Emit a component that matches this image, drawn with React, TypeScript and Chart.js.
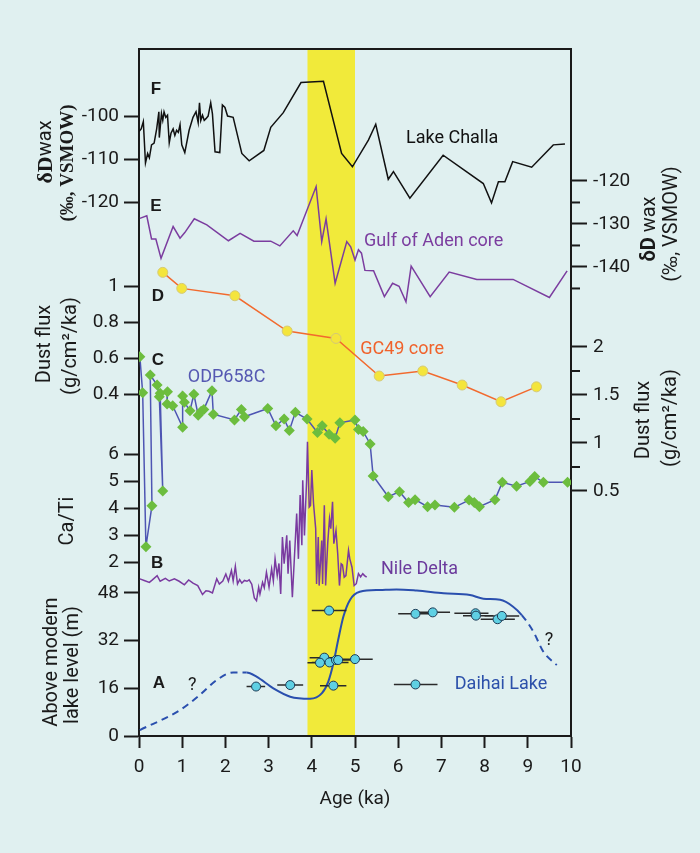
import React, { useEffect, useRef } from 'react';
import { Chart, registerables } from 'chart.js';

Chart.register(...registerables);

// ---------- page / style ----------
const W = 700;
const H = 853;
const BG = '#e0f0f0';
const INK = '#1a1a1a';
const FONT = 'Roboto';

// ---------- x axis ----------
const AGE_TICKS = [0, 1, 2, 3, 4, 5, 6, 7, 8, 9, 10];
const BAND = [3.9, 5.0];

// ---------- F: Lake Challa dDwax (left axis) ----------
const challaAge = [0.0, 0.05, 0.1, 0.15, 0.2, 0.24, 0.29, 0.35, 0.41, 0.46, 0.47, 0.52, 0.55, 0.58, 0.62, 0.66, 0.7, 0.74, 0.79, 0.83, 0.87, 0.91, 0.95, 0.99, 1.06, 1.16, 1.25, 1.32, 1.37, 1.4, 1.43, 1.47, 1.51, 1.55, 1.6, 1.66, 1.7, 1.76, 1.87, 1.93, 1.99, 2.05, 2.18, 2.38, 2.55, 2.89, 3.05, 3.34, 3.75, 4.27, 4.69, 4.94, 5.31, 5.48, 5.77, 5.89, 6.27, 7.04, 7.97, 8.16, 8.32, 8.47, 8.65, 9.09, 9.59, 9.86];
const challaDD = [-103.6, -103.0, -101.3, -110.9, -108.7, -109.7, -106.7, -106.3, -102.9, -99.0, -105.0, -99.4, -101.0, -99.0, -100.3, -99.8, -106.2, -104.0, -103.0, -104.5, -103.3, -103.8, -102.0, -106.7, -108.5, -103.3, -100.3, -99.0, -101.5, -96.9, -101.0, -99.8, -101.0, -100.6, -100.0, -96.9, -99.5, -108.3, -108.5, -97.4, -98.0, -100.0, -100.3, -108.7, -110.4, -108.0, -102.6, -99.2, -92.2, -91.9, -108.7, -111.8, -105.6, -101.9, -114.7, -112.9, -119.1, -109.1, -115.7, -120.2, -115.3, -115.3, -110.6, -111.9, -106.7, -106.5];

// ---------- E: Gulf of Aden core dDwax (right axis) ----------
const adenAge = [0.02, 0.18, 0.29, 0.39, 0.51, 0.79, 0.95, 1.06, 1.28, 1.57, 2.07, 2.34, 2.66, 3.05, 3.26, 3.57, 3.66, 4.1, 4.23, 4.33, 4.54, 4.81, 4.9, 5.0, 5.08, 5.15, 5.23, 5.43, 5.68, 5.87, 6.02, 6.18, 6.3, 6.74, 7.18, 7.82, 8.66, 9.5, 9.91];
const adenDD = [-128.7, -128.1, -133.5, -133.5, -138.0, -130.6, -133.3, -132.0, -128.8, -130.2, -133.9, -132.2, -134.0, -134.0, -135.1, -131.6, -132.7, -121.3, -134.1, -128.8, -143.8, -134.1, -135.3, -138.4, -136.0, -136.8, -140.8, -140.9, -146.9, -143.8, -144.5, -148.1, -139.8, -146.9, -141.2, -142.9, -142.9, -147.1, -140.9];

// ---------- D: GC49 core dust flux (left axis) ----------
const gc49Age = [0.55, 0.99, 2.22, 3.43, 4.56, 5.56, 6.57, 7.48, 8.38, 9.2];
const gc49Flux = [1.076, 0.987, 0.946, 0.75, 0.709, 0.5, 0.528, 0.45, 0.357, 0.44];

// ---------- C: ODP658C dust flux (right axis) ----------
const odpAge = [0.02, 0.085, 0.16, 0.3, 0.26, 0.42, 0.47, 0.55, 0.49, 0.66, 0.65, 0.78, 1.01, 1.01, 1.05, 1.18, 1.27, 1.37, 1.44, 1.5, 1.69, 1.72, 2.21, 2.37, 2.44, 2.98, 3.17, 3.36, 3.48, 3.62, 3.89, 4.13, 4.24, 4.4, 4.54, 4.65, 5.0, 5.08, 5.19, 5.35, 5.42, 5.77, 6.03, 6.24, 6.39, 6.68, 6.85, 7.3, 7.64, 7.76, 7.88, 8.24, 8.41, 8.74, 9.05, 9.16, 9.36, 9.92];
const odpFlux = [1.899, 1.524, -0.08, 0.347, 1.708, 1.604, 1.482, 0.5, 1.518, 1.535, 1.406, 1.388, 1.163, 1.49, 1.424, 1.336, 1.507, 1.29, 1.33, 1.35, 1.545, 1.3, 1.24, 1.35, 1.274, 1.36, 1.18, 1.25, 1.13, 1.32, 1.25, 1.11, 1.18, 1.09, 1.05, 1.21, 1.24, 1.14, 1.12, 0.99, 0.656, 0.44, 0.493, 0.38, 0.41, 0.336, 0.354, 0.33, 0.406, 0.38, 0.336, 0.41, 0.59, 0.55, 0.6, 0.65, 0.59, 0.59];

// ---------- B: Nile Delta Ca/Ti ----------
const nileAge = [0.02, 0.12, 0.24, 0.31, 0.42, 0.49, 0.61, 0.7, 0.82, 0.93, 1.05, 1.15, 1.25, 1.36, 1.47, 1.55, 1.62, 1.7, 1.8, 1.86, 1.94, 2.01, 2.07, 2.14, 2.18, 2.23, 2.28, 2.33, 2.38, 2.44, 2.5, 2.55, 2.61, 2.67, 2.72, 2.77, 2.8, 2.86, 2.9, 2.95, 3.01, 3.07, 3.11, 3.15, 3.2, 3.24, 3.28, 3.32, 3.36, 3.42, 3.45, 3.49, 3.55, 3.59, 3.65, 3.69, 3.73, 3.77, 3.79, 3.83, 3.88, 3.9, 3.94, 3.97, 4.0, 4.04, 4.09, 4.11, 4.15, 4.17, 4.23, 4.25, 4.29, 4.32, 4.37, 4.41, 4.44, 4.48, 4.51, 4.56, 4.6, 4.64, 4.68, 4.71, 4.75, 4.79, 4.85, 4.88, 4.93, 4.98, 5.03, 5.08, 5.13, 5.18, 5.22, 5.27];
const nileCaTi = [1.38, 1.32, 1.25, 1.34, 1.5, 1.29, 1.4, 1.3, 1.38, 1.29, 1.16, 1.34, 1.22, 1.13, 0.8, 0.94, 0.92, 0.86, 1.38, 1.19, 1.3, 1.56, 1.29, 1.69, 1.3, 1.84, 1.19, 1.35, 1.22, 1.32, 1.29, 1.34, 1.18, 0.67, 0.57, 1.07, 0.82, 1.25, 1.05, 1.62, 1.07, 1.75, 1.3, 2.12, 1.5, 1.95, 0.82, 2.93, 1.94, 2.99, 1.57, 2.8, 0.7, 1.94, 3.8, 2.12, 4.48, 2.62, 5.03, 2.99, 5.03, 6.46, 4.04, 4.1, 5.41, 4.17, 3.24, 1.19, 2.93, 1.13, 2.8, 1.19, 4.1, 1.13, 2.74, 3.61, 3.24, 4.23, 2.68, 3.17, 2.31, 1.13, 1.94, 1.9, 1.44, 1.5, 2.43, 2.12, 1.81, 1.13, 1.2, 1.57, 1.45, 1.57, 1.5, 1.44];

// ---------- A: Daihai Lake level ----------
const daihaiCurveAge = [0.02, 0.95, 1.41, 1.8, 2.18, 2.49, 2.72, 3.11, 3.5, 3.96, 4.23, 4.38, 4.5, 4.61, 4.73, 4.88, 5.11, 5.58, 5.96, 6.43, 7.05, 7.66, 7.97, 8.36, 8.66, 8.86, 9.13, 9.36, 9.67];
const daihaiCurveLevel = [2.0, 8.7, 13.8, 18.8, 21.3, 21.3, 19.9, 16.0, 13.2, 12.5, 14.3, 18.2, 24.4, 32.2, 40.0, 45.6, 48.4, 49.0, 49.2, 48.8, 47.9, 47.3, 46.1, 45.7, 43.4, 40.6, 35.0, 28.3, 23.8];
const daihaiAge = [2.71, 3.5, 4.4, 4.29, 4.19, 4.41, 4.56, 4.61, 5.0, 4.5, 6.4, 6.8, 7.79, 7.8, 8.3, 8.4, 6.4];
const daihaiLevel = [16.6, 17.1, 42.1, 26.3, 24.6, 24.7, 25.5, 25.5, 25.8, 16.9, 41.0, 41.5, 41.2, 40.4, 39.2, 40.3, 17.3];
const daihaiAgeLo = [2.49, 3.2, 4.0, 3.95, 3.9, 4.0, 4.2, 4.25, 4.64, 4.19, 6.0, 6.4, 7.3, 7.5, 7.91, 8.0, 5.9];
const daihaiAgeHi = [2.92, 3.8, 4.8, 4.6, 4.5, 4.85, 4.95, 4.96, 5.41, 4.8, 6.8, 7.2, 8.09, 8.2, 8.7, 8.8, 6.91];
const DASH_BEFORE = 2.5;
const DASH_AFTER = 8.86;

// ---------- tick labels ----------
const LEFT_TICKS_DD = [-100, -110, -120];
const LEFT_TICKS_DUST = [1, 0.8, 0.6, 0.4];
const LEFT_TICKS_CATI = [6, 5, 4, 3, 2];
const LEFT_TICKS_LAKE = [48, 32, 16, 0];
const RIGHT_TICKS_DD = [-120, -130, -140];
const RIGHT_MINOR_DD = [-125, -135, -145];
const RIGHT_TICKS_DUST = [2, 1.5, 1, 0.5];
const RIGHT_MINOR_DUST = [1.75, 1.25, 0.75];

// ---------- ranges of the stacked (hidden) value scales ----------
const RANGES: Record<string, { min: number; max: number }> = {
  yF: { min: -244.2, max: -84.4 },
  yE: { min: -249.1, max: -89.3 },
  yD: { min: -1.5, max: 2.317 },
  yC: { min: -2.052, max: 5.104 },
  yB: { min: -4.44, max: 21.0 },
  yA: { min: 0, max: 230.6 },
};
const frac = (id: string, v: number) => (v - RANGES[id].min) / (RANGES[id].max - RANGES[id].min);

const LEFT_AXIS = [
  ...LEFT_TICKS_DD.map((v) => ({ id: 'yF', v })),
  ...LEFT_TICKS_DUST.map((v) => ({ id: 'yD', v })),
  ...LEFT_TICKS_CATI.map((v) => ({ id: 'yB', v })),
  ...LEFT_TICKS_LAKE.map((v) => ({ id: 'yA', v })),
];
const RIGHT_AXIS = [
  ...RIGHT_TICKS_DD.map((v) => ({ id: 'yE', v })),
  ...RIGHT_TICKS_DUST.map((v) => ({ id: 'yC', v })),
];
const RIGHT_MINOR = [
  ...RIGHT_MINOR_DD.map((v) => ({ id: 'yE', v })),
  ...RIGHT_MINOR_DUST.map((v) => ({ id: 'yC', v })),
];

// ---------- annotations ----------
const PANEL_LETTERS = [
  { text: 'F', x: 0.39, axis: 'yF', y: -93.5 },
  { text: 'E', x: 0.39, axis: 'yE', y: -125.6 },
  { text: 'D', x: 0.44, axis: 'yD', y: 0.95 },
  { text: 'C', x: 0.44, axis: 'yC', y: 1.875 },
  { text: 'B', x: 0.42, axis: 'yB', y: 2.0 },
  { text: 'A', x: 0.46, axis: 'yA', y: 18.1 },
];
const SERIES_LABELS = [
  { text: 'Lake Challa', x: 7.25, axis: 'yF', y: -104.7, color: '#111111', align: 'center' },
  { text: 'Gulf of Aden core', x: 5.21, axis: 'yE', y: -133.7, color: '#7b3d9f', align: 'left' },
  { text: 'GC49 core', x: 5.12, axis: 'yD', y: 0.661, color: '#f0622b', align: 'left' },
  { text: 'ODP658C', x: 1.13, axis: 'yC', y: 1.698, color: '#5558b2', align: 'left' },
  { text: 'Nile Delta', x: 5.6, axis: 'yB', y: 1.8, color: '#6b3a9c', align: 'left' },
  { text: 'Daihai Lake', x: 7.31, axis: 'yA', y: 17.8, color: '#2c50aa', align: 'left' },
  { text: '?', x: 1.23, axis: 'yA', y: 17.5, color: INK, align: 'center' },
  { text: '?', x: 9.49, axis: 'yA', y: 32.6, color: INK, align: 'center' },
];

type Piece = { t: string; font: string };
const TITLES: { x: number; y: number; pieces: Piece[] }[] = [
  { x: 46, y: 152, pieces: [{ t: 'δD', font: 'bold 22px "Liberation Serif"' }, { t: 'wax', font: `20px ${FONT}` }] },
  { x: 68, y: 163, pieces: [{ t: '(‰, VSMOW)', font: 'bold 19px "Liberation Serif"' }] },
  { x: 45, y: 344, pieces: [{ t: 'Dust flux', font: `20px ${FONT}` }] },
  { x: 71, y: 346, pieces: [{ t: '(g/cm²/ka)', font: `20px ${FONT}` }] },
  { x: 68, y: 521, pieces: [{ t: 'Ca/Ti', font: `20px ${FONT}` }] },
  { x: 52, y: 662, pieces: [{ t: 'Above modern', font: `20px ${FONT}` }] },
  { x: 73, y: 665, pieces: [{ t: 'lake level (m)', font: `20px ${FONT}` }] },
  { x: 650, y: 229, pieces: [{ t: 'δD', font: `bold 20px ${FONT}` }, { t: ' wax', font: `20px ${FONT}` }] },
  { x: 672, y: 224, pieces: [{ t: '(‰, VSMOW)', font: `20px ${FONT}` }] },
  { x: 644, y: 420, pieces: [{ t: 'Dust flux', font: `20px ${FONT}` }] },
  { x: 671, y: 418, pieces: [{ t: '(g/cm²/ka)', font: `20px ${FONT}` }] },
];
const X_TITLE = { text: 'Age (ka)', x: 355, y: 797 };

const pts = (xs: number[], ys: number[]) => xs.map((x, i) => ({ x, y: ys[i] }));

const overlayPlugin = {
  id: 'overlay',
  beforeDraw(chart: any) {
    const { ctx, chartArea, scales } = chart;
    const x0 = scales.x.getPixelForValue(BAND[0]);
    const x1 = scales.x.getPixelForValue(BAND[1]);
    ctx.save();
    ctx.fillStyle = '#f1ea3a';
    ctx.fillRect(x0, chartArea.top, x1 - x0, chartArea.bottom - chartArea.top);
    ctx.restore();
  },
  afterDraw(chart: any) {
    const { ctx, chartArea, scales } = chart;
    ctx.save();
    // minor ticks on right axis
    ctx.strokeStyle = INK;
    ctx.lineWidth = 2;
    RIGHT_MINOR.forEach((m) => {
      const y = scales[m.id].getPixelForValue(m.v);
      ctx.beginPath();
      ctx.moveTo(chartArea.right, y);
      ctx.lineTo(chartArea.right + 9, y);
      ctx.stroke();
    });
    // panel letters
    ctx.fillStyle = INK;
    ctx.textAlign = 'center';
    ctx.textBaseline = 'alphabetic';
    ctx.font = 'bold 17px "Liberation Sans"';
    PANEL_LETTERS.forEach((l) => {
      ctx.fillText(l.text, scales.x.getPixelForValue(l.x), scales[l.axis].getPixelForValue(l.y) + 0.36 * 17);
    });
    // series labels
    ctx.font = `18px ${FONT}`;
    SERIES_LABELS.forEach((l) => {
      ctx.fillStyle = l.color;
      ctx.textAlign = l.align;
      ctx.fillText(l.text, scales.x.getPixelForValue(l.x), scales[l.axis].getPixelForValue(l.y) + 0.36 * 18);
    });
    // x title
    ctx.fillStyle = INK;
    ctx.textAlign = 'center';
    ctx.font = `19px ${FONT}`;
    ctx.fillText(X_TITLE.text, X_TITLE.x, X_TITLE.y + 0.36 * 19);
    // rotated axis titles
    TITLES.forEach((t) => {
      ctx.save();
      ctx.translate(t.x, t.y);
      ctx.rotate(-Math.PI / 2);
      ctx.textBaseline = 'middle';
      ctx.textAlign = 'left';
      const widths = t.pieces.map((p) => {
        ctx.font = p.font;
        return ctx.measureText(p.t).width;
      });
      const total = widths.reduce((a, b) => a + b, 0);
      let cx = -total / 2;
      t.pieces.forEach((p, i) => {
        ctx.font = p.font;
        ctx.fillStyle = INK;
        ctx.fillText(p.t, cx, 0);
        cx += widths[i];
      });
      ctx.restore();
    });
    ctx.restore();
  },
};

const hiddenScale = (id: string) => ({ type: 'linear', display: false, min: RANGES[id].min, max: RANGES[id].max });

function buildErrorBars() {
  const out: { x: number; y: number | null }[] = [];
  daihaiAge.forEach((_, i) => {
    out.push({ x: daihaiAgeLo[i], y: daihaiLevel[i] });
    out.push({ x: daihaiAgeHi[i], y: daihaiLevel[i] });
    out.push({ x: daihaiAgeHi[i], y: null });
  });
  return out;
}

export default function App() {
  const ref = useRef<HTMLCanvasElement>(null);
  useEffect(() => {
    document.body.style.margin = '0';
    document.body.style.background = BG;
    const chart = new Chart(ref.current as HTMLCanvasElement, {
      type: 'line',
      data: {
        datasets: [
          {
            label: 'Daihai samples',
            data: pts(daihaiAge, daihaiLevel),
            yAxisID: 'yA',
            showLine: false,
            pointRadius: 4.5,
            pointBackgroundColor: '#5fd0e3',
            pointBorderColor: '#1e3b55',
            pointBorderWidth: 1,
          },
          {
            label: 'Daihai age error',
            data: buildErrorBars(),
            yAxisID: 'yA',
            borderColor: '#2a2a2a',
            borderWidth: 1.5,
            pointRadius: 0,
            spanGaps: false,
          },
          {
            label: 'Daihai Lake',
            data: pts(daihaiCurveAge, daihaiCurveLevel),
            yAxisID: 'yA',
            borderColor: '#2a4fae',
            borderWidth: 2,
            pointRadius: 0,
            cubicInterpolationMode: 'monotone',
            segment: {
              borderDash: (c: any) => (c.p1.parsed.x <= DASH_BEFORE || c.p0.parsed.x >= DASH_AFTER ? [7, 5] : undefined),
            },
          },
          {
            label: 'GC49 core',
            data: pts(gc49Age, gc49Flux),
            yAxisID: 'yD',
            borderColor: '#f26a2e',
            borderWidth: 1.5,
            pointRadius: 5,
            pointBackgroundColor: '#f4e53c',
            pointBorderColor: '#d4c977',
            pointBorderWidth: 1,
          },
          {
            label: 'ODP658C',
            data: pts(odpAge, odpFlux),
            yAxisID: 'yC',
            borderColor: '#4e55b3',
            borderWidth: 1.5,
            pointStyle: 'rectRot',
            pointRadius: 5.5,
            pointBackgroundColor: '#6cbd3e',
            pointBorderColor: '#6cbd3e',
            pointBorderWidth: 0,
          },
          {
            label: 'Nile Delta',
            data: pts(nileAge, nileCaTi),
            yAxisID: 'yB',
            borderColor: '#7a3aa0',
            borderWidth: 1.5,
            pointRadius: 0,
          },
          {
            label: 'Gulf of Aden core',
            data: pts(adenAge, adenDD),
            yAxisID: 'yE',
            borderColor: '#7b3d9f',
            borderWidth: 1.5,
            pointRadius: 0,
          },
          {
            label: 'Lake Challa',
            data: pts(challaAge, challaDD),
            yAxisID: 'yF',
            borderColor: '#111111',
            borderWidth: 1.5,
            pointRadius: 0,
          },
        ],
      },
      options: {
        responsive: false,
        animation: false,
        events: [],
        layout: { padding: 0 },
        plugins: { legend: { display: false }, tooltip: { enabled: false } },
        scales: {
          x: {
            type: 'linear',
            position: 'bottom',
            min: 0,
            max: 10,
            afterBuildTicks: (a: any) => {
              a.ticks = AGE_TICKS.map((v) => ({ value: v }));
            },
            afterFit: (a: any) => {
              a.height = H - 736;
            },
            grid: { drawOnChartArea: false, drawTicks: true, tickLength: 12, tickWidth: 2, tickColor: INK },
            border: { display: true, width: 2, color: INK },
            ticks: { color: INK, font: { family: FONT, size: 19 }, padding: 8, autoSkip: false, maxRotation: 0 },
          },
          xTop: {
            type: 'linear',
            position: 'top',
            min: 0,
            max: 10,
            grid: { display: false },
            ticks: { display: false },
            border: { display: true, width: 2, color: INK },
            afterFit: (a: any) => {
              a.height = 49;
            },
          },
          yLeft: {
            type: 'linear',
            position: 'left',
            min: 0,
            max: 1,
            afterBuildTicks: (a: any) => {
              a.ticks = LEFT_AXIS.map((t) => ({ value: frac(t.id, t.v) }));
            },
            afterFit: (a: any) => {
              a.width = 139;
            },
            grid: { drawOnChartArea: false, drawTicks: true, tickLength: 15, tickWidth: 2, tickColor: INK },
            border: { display: true, width: 2, color: INK },
            ticks: {
              color: INK,
              font: { family: FONT, size: 19 },
              padding: 5,
              autoSkip: false,
              callback: (_v: any, i: number) => String(LEFT_AXIS[i].v),
            },
          },
          yRight: {
            type: 'linear',
            position: 'right',
            min: 0,
            max: 1,
            afterBuildTicks: (a: any) => {
              a.ticks = RIGHT_AXIS.map((t) => ({ value: frac(t.id, t.v) }));
            },
            afterFit: (a: any) => {
              a.width = W - 571;
            },
            grid: { drawOnChartArea: false, drawTicks: true, tickLength: 16, tickWidth: 2, tickColor: INK },
            border: { display: true, width: 2, color: INK },
            ticks: {
              color: INK,
              font: { family: FONT, size: 19 },
              padding: 6,
              autoSkip: false,
              callback: (_v: any, i: number) => String(RIGHT_AXIS[i].v),
            },
          },
          yF: hiddenScale('yF'),
          yE: hiddenScale('yE'),
          yD: hiddenScale('yD'),
          yC: hiddenScale('yC'),
          yB: hiddenScale('yB'),
          yA: hiddenScale('yA'),
        },
      } as any,
      plugins: [overlayPlugin],
    } as any);
    return () => chart.destroy();
  }, []);
  return (
    <div style={{ width: W, height: H, background: BG }}>
      <canvas ref={ref} width={W} height={H} style={{ display: 'block', width: W, height: H }} />
    </div>
  );
}
